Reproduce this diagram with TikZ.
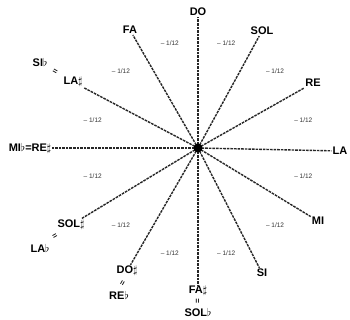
\documentclass[tikz,border=0pt]{standalone}
\usepackage{fontspec}
\setsansfont{Liberation Sans}
\begin{document}
\begin{tikzpicture}[x=1pt,y=1pt,
  lab/.style={font=\sffamily\bfseries\fontsize{11}{12}\selectfont, inner sep=1pt},
  eqs/.style={font=\sffamily\bfseries\fontsize{8}{8}\selectfont, inner sep=0pt},
  frac/.style={font=\sffamily\fontsize{6.5}{7}\selectfont, inner sep=0pt, text=black!80},
  ray/.style={line width=1.4pt, draw=black!85, dash pattern=on 2.6pt off 1pt}]
\useasboundingbox (-198,-172) rectangle (152,148);
\fill[white] (-198,-172) rectangle (152,148);
\coordinate (c) at (0,0);
\node[lab] (do) at (0,136) {DO};
\node[lab] (sol) at (64,117) {SOL};
\node[lab] (re) at (115,65) {RE};
\node[lab] (la) at (142,-3) {LA};
\node[lab] (mi) at (120,-73) {MI};
\node[lab] (si) at (64,-125) {SI};
\node[lab] (fas) at (0,-143) {FA$\sharp$};
\node[eqs,rotate=90] (e1) at (0,-153) {=};
\node[lab] (solb) at (0,-164) {SOL$\flat$};
\node[lab] (dos) at (-71,-123) {DO$\sharp$};
\node[eqs,rotate=60] (e2) at (-75,-135) {=};
\node[lab] (reb) at (-79,-147) {RE$\flat$};
\node[lab] (sols) at (-127,-77) {SOL$\sharp$};
\node[eqs,rotate=30] (e3) at (-143,-89) {=};
\node[lab] (lab1) at (-158,-100) {LA$\flat$};
\node[lab] (mib) at (-168,0) {MI$\flat$=RE$\sharp$};
\node[lab] (las) at (-125,66) {LA$\sharp$};
\node[eqs,rotate=-30] (e4) at (-143,76) {=};
\node[lab] (sib) at (-158,86) {SI$\flat$};
\node[lab] (fa) at (-68,118) {FA};
\foreach \n in {do,sol,re,la,mi,si,fas,dos,sols,mib,las,fa}
  \draw[ray] (c) -- (\n);
\fill[black] (c) circle (4.5);
\foreach \a [count=\i] in {75,45,15,-15,-45,-75,-105,-135,-165,165,135,105}
  \node[frac] (f\i) at (\a:109) {– 1/12};
\end{tikzpicture}
\end{document}
